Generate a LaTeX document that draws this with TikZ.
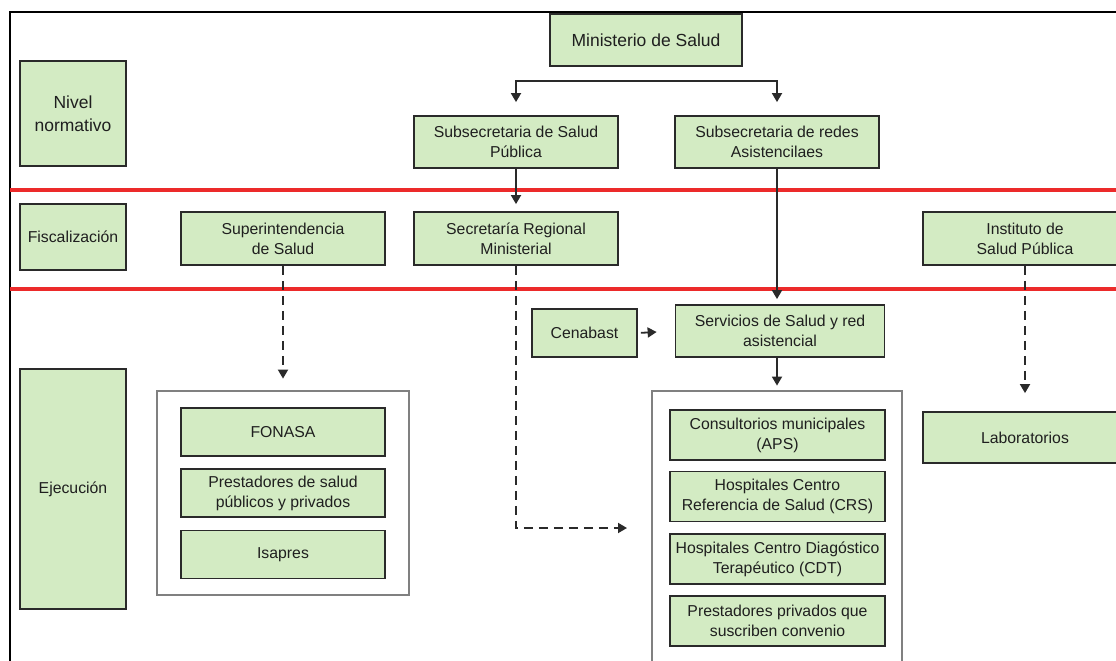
\documentclass[tikz,border=0pt]{standalone}
\usepackage{fontspec}
\setmainfont{Liberation Sans}
\usepackage{tikz}
\usetikzlibrary{arrows.meta,calc}

\definecolor{boxgreen}{HTML}{D3EBC3}
\definecolor{boxline}{HTML}{2A2A2A}
\definecolor{txtgray}{HTML}{1F1F1F}
\definecolor{groupgray}{HTML}{808080}
\definecolor{levelred}{HTML}{EC2A2A}

\begin{document}
\begin{tikzpicture}[x=1pt,y=-1pt,
  box/.style={draw=boxline, fill=boxgreen, line width=1.8pt, align=center, text=txtgray,
    minimum width=204pt, minimum height=52pt, inner sep=2pt,
    font=\fontsize{15.8}{20}\selectfont},
  levelbox/.style={box, minimum width=106pt},
  bigtext/.style={font=\fontsize{17.5}{22.5}\selectfont},
  groupbox/.style={draw=groupgray, line width=2.8pt, fill=white},
  arr/.style={draw=boxline, line width=1.8pt, -{Triangle[length=9pt,width=10pt]}},
  dasharr/.style={arr, dash pattern=on 9pt off 6pt}]
\useasboundingbox (0,0) rectangle (1116,661);

\draw[line width=2.8pt] (10,661) -- (10,12) -- (1116,12);
\draw[levelred, line width=3.2pt] (10,190) -- (1116,190);
\draw[levelred, line width=3.2pt] (10,289) -- (1116,289);

\node[levelbox, bigtext, minimum height=105pt] (nivel) at (73,113.5) {Nivel\\normativo};
\node[levelbox, minimum height=66pt] (fisc) at (73,237) {Fiscalización};
\node[levelbox, minimum height=240pt] (ejec) at (73,489) {Ejecución};

\node[box, bigtext, minimum width=192pt] (minsal) at (646,40) {Ministerio de Salud};
\node[box] (ssp) at (516,142) {Subsecretaria de Salud\\Pública};
\node[box] (sra) at (777,142) {Subsecretaria de redes\\Asistencilaes};

\node[box, minimum height=53pt] (super) at (283,238.5) {Superintendencia\\de Salud};
\node[box, minimum height=53pt] (seremi) at (516,238.5) {Secretaría Regional\\Ministerial};
\node[box, minimum height=53pt] (isp) at (1025,238.5) {Instituto de\\Salud Pública};

\node[box, minimum width=105pt, minimum height=48pt] (cenabast) at (584.5,333) {Cenabast};
\node[box, minimum width=209pt] (servicios) at (780,331) {Servicios de Salud y red\\asistencial};
\node[box, minimum height=51pt] (lab) at (1025,437.5) {Laboratorios};

\node[groupbox, minimum width=252pt, minimum height=204pt] (leftgroup) at (283,493) {};
\node[box, minimum height=48pt] (fonasa) at (283,432) {FONASA};
\node[box, minimum height=48pt] (prest) at (283,493) {Prestadores de salud\\públicos y privados};
\node[box, minimum height=48pt] (isapres) at (283,554.5) {Isapres};

\node[groupbox, minimum width=250pt, minimum height=290pt] (rightgroup) at (777,536) {};
\node[box, minimum width=215pt, minimum height=50pt] (aps) at (777.5,435) {Consultorios municipales\\(APS)};
\node[box, minimum width=215pt, minimum height=50pt] (crs) at (777.5,496.5) {Hospitales Centro\\Referencia de Salud (CRS)};
\node[box, minimum width=215pt, minimum height=50pt] (cdt) at (777.5,559) {Hospitales Centro Diagóstico\\Terapéutico (CDT)};
\node[box, minimum width=215pt, minimum height=50pt] (priv) at (777.5,621) {Prestadores privados que\\suscriben convenio};

\coordinate (fork) at (646,81);
\coordinate (entry) at (652,528);
\draw[arr, shorten >=13pt] (fork) -| (ssp.north);
\draw[arr, shorten >=13pt] (fork) -| (sra.north);
\draw[arr, shorten >=7pt] (ssp.south) -- (seremi.north);
\draw[arr, shorten >=5pt] (sra.south) -- (sra.south |- servicios.north);
\draw[arr, shorten <=3pt, shorten >=18pt] (cenabast.east) -- (servicios.west);
\draw[arr, shorten >=4pt] (servicios.south -| sra.south) -- (sra.south |- rightgroup.north);
\draw[dasharr, shorten >=11pt] (super.south) -- (leftgroup.north);
\draw[dasharr, shorten >=25pt] (seremi.south) |- (entry);
\draw[dasharr, shorten >=18pt] (isp.south) -- (lab.north);
\end{tikzpicture}
\end{document}
